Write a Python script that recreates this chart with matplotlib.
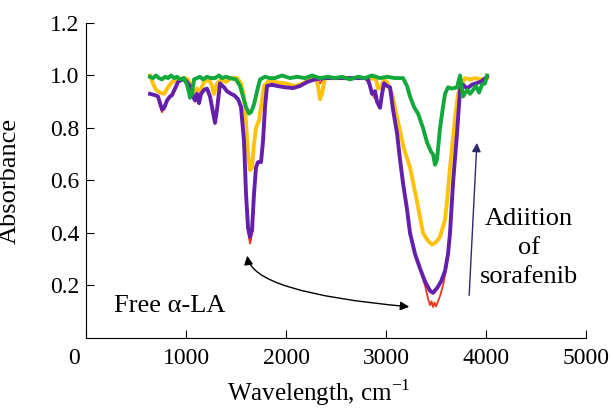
import matplotlib
matplotlib.use("Agg")
import matplotlib.pyplot as plt
import matplotlib.transforms as mtransforms
from matplotlib.patches import FancyArrowPatch

plt.rcParams['font.family'] = ['Liberation Serif', 'DejaVu Serif']
plt.rcParams['mathtext.fontset'] = 'custom'
plt.rcParams['mathtext.rm'] = 'Liberation Serif'

# spectra (wavenumber cm-1, absorbance)
purple_x = [640, 690, 720, 740, 760, 780, 810, 840, 860, 890, 920, 960, 1000, 1030, 1050, 1070,
            1090, 1110, 1130, 1150, 1180, 1210, 1240, 1270, 1290, 1310, 1340, 1380, 1410, 1450,
            1480, 1520, 1550, 1580, 1600, 1620, 1640, 1660, 1680, 1700, 1720, 1750, 1770, 1790,
            1810, 1860, 1910, 1990, 2070, 2140, 2210, 2290, 2390, 2590, 2790, 2820, 2840, 2860,
            2890, 2910, 2940, 2960, 2980, 3010, 3040, 3070, 3110, 3140, 3170, 3210, 3240, 3290,
            3340, 3390, 3440, 3470, 3510, 3550, 3590, 3620, 3640, 3670, 3710, 3740, 3770, 3810,
            3860, 3900, 3940, 3980, 4010]
purple_y = [0.93, 0.925, 0.92, 0.895, 0.87, 0.875, 0.905, 0.92, 0.925, 0.95, 0.975, 0.985, 0.98,
            0.965, 0.95, 0.92, 0.905, 0.93, 0.895, 0.93, 0.945, 0.95, 0.92, 0.86, 0.82, 0.87,
            0.97, 0.955, 0.94, 0.93, 0.925, 0.91, 0.88, 0.75, 0.55, 0.42, 0.385, 0.41, 0.55,
            0.65, 0.67, 0.67, 0.75, 0.88, 0.96, 0.965, 0.96, 0.955, 0.952, 0.96, 0.975, 0.985,
            0.99, 0.99, 0.99, 0.985, 0.96, 0.93, 0.94, 0.90, 0.877, 0.93, 0.97, 0.96, 0.955,
            0.87, 0.78, 0.68, 0.59, 0.49, 0.40, 0.32, 0.265, 0.215, 0.18, 0.172, 0.19, 0.215,
            0.255, 0.32, 0.40, 0.59, 0.78, 0.945, 0.965, 0.95, 0.965, 0.97, 0.975, 0.985, 0.995]

red_x = [640, 690, 720, 740, 760, 780, 810, 840, 890, 920, 960, 1000, 1050, 1070, 1090, 1110,
         1130, 1150, 1180, 1210, 1240, 1270, 1290, 1310, 1340, 1380, 1450, 1520, 1550, 1580,
         1600, 1620, 1630, 1640, 1650, 1660, 1680, 1700, 1720, 1750, 1770, 1790, 1810, 1910,
         2070, 2210, 2300, 2340, 2380, 2590, 2790, 2840, 2860, 2910, 2940, 2960, 2980, 3040,
         3070, 3110, 3170, 3240, 3290, 3340, 3390, 3420, 3440, 3455, 3470, 3485, 3500, 3515,
         3540, 3570, 3600, 3620, 3640, 3670, 3710, 3740, 3770, 3810, 3860, 3900, 3940, 3980, 4010]
red_y = [0.93, 0.925, 0.92, 0.89, 0.86, 0.875, 0.9, 0.92, 0.95, 0.975, 0.985, 0.98, 0.95, 0.92,
         0.9, 0.93, 0.89, 0.93, 0.945, 0.95, 0.92, 0.86, 0.815, 0.87, 0.97, 0.955, 0.93, 0.91,
         0.88, 0.75, 0.55, 0.42, 0.38, 0.36, 0.375, 0.41, 0.55, 0.65, 0.67, 0.67, 0.75, 0.88,
         0.96, 0.96, 0.952, 0.975, 0.99, 0.97, 0.99, 0.99, 0.99, 0.96, 0.93, 0.90, 0.875, 0.93,
         0.97, 0.955, 0.87, 0.78, 0.59, 0.40, 0.32, 0.26, 0.2, 0.15, 0.125, 0.14, 0.118, 0.135,
         0.12, 0.135, 0.16, 0.2, 0.26, 0.31, 0.39, 0.59, 0.78, 0.945, 0.965, 0.95, 0.965, 0.97,
         0.975, 0.985, 0.995]

yellow_x = [640, 670, 700, 740, 780, 820, 860, 920, 980, 1020, 1050, 1080, 1110, 1140, 1180,
            1230, 1260, 1280, 1310, 1350, 1400, 1450, 1510, 1550, 1580, 1600, 1620, 1640, 1660,
            1680, 1700, 1730, 1750, 1780, 1830, 1890, 1990, 2090, 2170, 2230, 2300, 2320, 2340,
            2360, 2390, 2590, 2840, 2900, 2920, 2950, 2980, 3010, 3060, 3110, 3180, 3240, 3310,
            3370, 3420, 3460, 3500, 3540, 3590, 3610, 3640, 3690, 3720, 3750, 3790, 3840, 3890,
            3940, 4010]
yellow_y = [1.0, 0.97, 0.945, 0.935, 0.93, 0.955, 0.975, 0.985, 0.99, 0.985, 0.96, 0.93, 0.95,
            0.94, 0.975, 0.985, 0.96, 0.93, 0.97, 0.985, 0.975, 0.99, 0.99, 0.97, 0.92, 0.82,
            0.70, 0.64, 0.65, 0.74, 0.80, 0.83, 0.88, 0.96, 0.98, 0.975, 0.97, 0.96, 0.97,
            0.985, 0.99, 0.96, 0.91, 0.93, 0.99, 0.99, 0.99, 0.985, 0.95, 0.955, 0.985, 0.975,
            0.93, 0.84, 0.72, 0.65, 0.52, 0.40, 0.37, 0.356, 0.365, 0.385, 0.45, 0.52, 0.65,
            0.84, 0.93, 0.965, 0.99, 0.985, 0.99, 0.985, 0.99]

green_x = [640, 670, 700, 730, 760, 790, 820, 850, 880, 910, 940, 980, 1010, 1030, 1040, 1060,
           1080, 1110, 1140, 1170, 1210, 1250, 1290, 1330, 1360, 1400, 1440, 1500, 1540, 1570,
           1600, 1630, 1650, 1680, 1710, 1740, 1790, 1840, 1890, 1960, 2040, 2110, 2190, 2260,
           2340, 2420, 2490, 2560, 2640, 2720, 2790, 2860, 2940, 3010, 3090, 3170, 3210, 3240,
           3280, 3320, 3370, 3410, 3450, 3470, 3490, 3510, 3540, 3570, 3590, 3620, 3660, 3710,
           3740, 3770, 3810, 3840, 3870, 3900, 3930, 3960, 3990, 4010]
green_y = [0.995, 0.99, 1.0, 0.99, 0.985, 0.995, 0.99, 1.0, 0.99, 0.995, 0.985, 0.99, 0.965,
           0.935, 0.915, 0.93, 0.985, 0.99, 0.995, 0.985, 0.995, 0.99, 0.99, 1.0, 0.99, 0.995,
           0.99, 0.985, 0.96, 0.92, 0.88, 0.855, 0.86, 0.89, 0.94, 0.985, 0.995, 0.99, 0.99,
           1.0, 0.99, 0.995, 0.99, 1.0, 0.99, 0.995, 0.99, 0.995, 0.985, 0.995, 0.99, 1.0,
           0.99, 0.995, 0.99, 0.99, 0.96, 0.92, 0.88, 0.855, 0.80, 0.745, 0.71, 0.70, 0.66,
           0.68, 0.80, 0.88, 0.93, 0.955, 0.95, 0.955, 1.0, 0.92, 0.945, 0.93, 0.945, 0.96,
           0.935, 0.965, 0.97, 1.0]

x_ticks = [0, 1000, 2000, 3000, 4000, 5000]
y_ticks = [0.2, 0.4, 0.6, 0.8, 1.0, 1.2]

fig = plt.figure(figsize=(6.13, 4.08), dpi=100)
ax = fig.add_axes([0.1403, 0.1716, 0.8157, 0.7721])

ax.plot(red_x, red_y, color='#e63a1e', lw=1.3)
ax.plot(yellow_x, yellow_y, color='#fcc10a', lw=2.8)
ax.plot(purple_x, purple_y, color='#6420ac', lw=2.8)
ax.plot(green_x, green_y, color='#12a83c', lw=2.8)

ax.set_xlim(0, 5000)
ax.set_ylim(0, 1.2)
ax.set_xticks(x_ticks)
ax.set_xticklabels([str(v) for v in x_ticks])
ax.set_yticks(y_ticks)
ax.set_yticklabels(['%.1f' % v for v in y_ticks])
ax.tick_params(axis='x', direction='in', length=6, width=0.8, labelsize=17, pad=7)
ax.tick_params(axis='y', direction='in', length=5.5, width=0.8, labelsize=17, pad=5)
# origin label sits left of the corner
lbl0 = ax.get_xticklabels()[0]
lbl0.set_transform(lbl0.get_transform() + mtransforms.ScaledTranslation(-0.12, 0, fig.dpi_scale_trans))

for s in ['top', 'right']:
    ax.spines[s].set_visible(False)
for s in ['left', 'bottom']:
    ax.spines[s].set_linewidth(0.8)

ax.set_xlabel('Wavelength, cm$^{-1}$', fontsize=18)
ax.set_ylabel('Absorbance', fontsize=19)
ax.xaxis.set_label_coords(0.465, -0.125)
ax.yaxis.set_label_coords(-0.13, 0.5)

ax.text(840, 0.122, 'Free \u03b1-LA', fontsize=19, ha='center', va='center')
ax.text(4430, 0.343, 'Adiition\nof\nsorafenib', fontsize=19, ha='center', va='center',
        multialignment='center', linespacing=1.4)

arr = FancyArrowPatch((1610, 0.324), (3260, 0.118), arrowstyle='<|-|>', mutation_scale=13,
                      connectionstyle='angle3,angleA=90,angleB=-5', color='black', lw=1)
ax.add_patch(arr)
ax.annotate('', xy=(3910, 0.754), xytext=(3830, 0.152),
            arrowprops=dict(arrowstyle='-|>', color='#2d2a6e', lw=1, mutation_scale=13))

fig.savefig('out.png', dpi=100)
